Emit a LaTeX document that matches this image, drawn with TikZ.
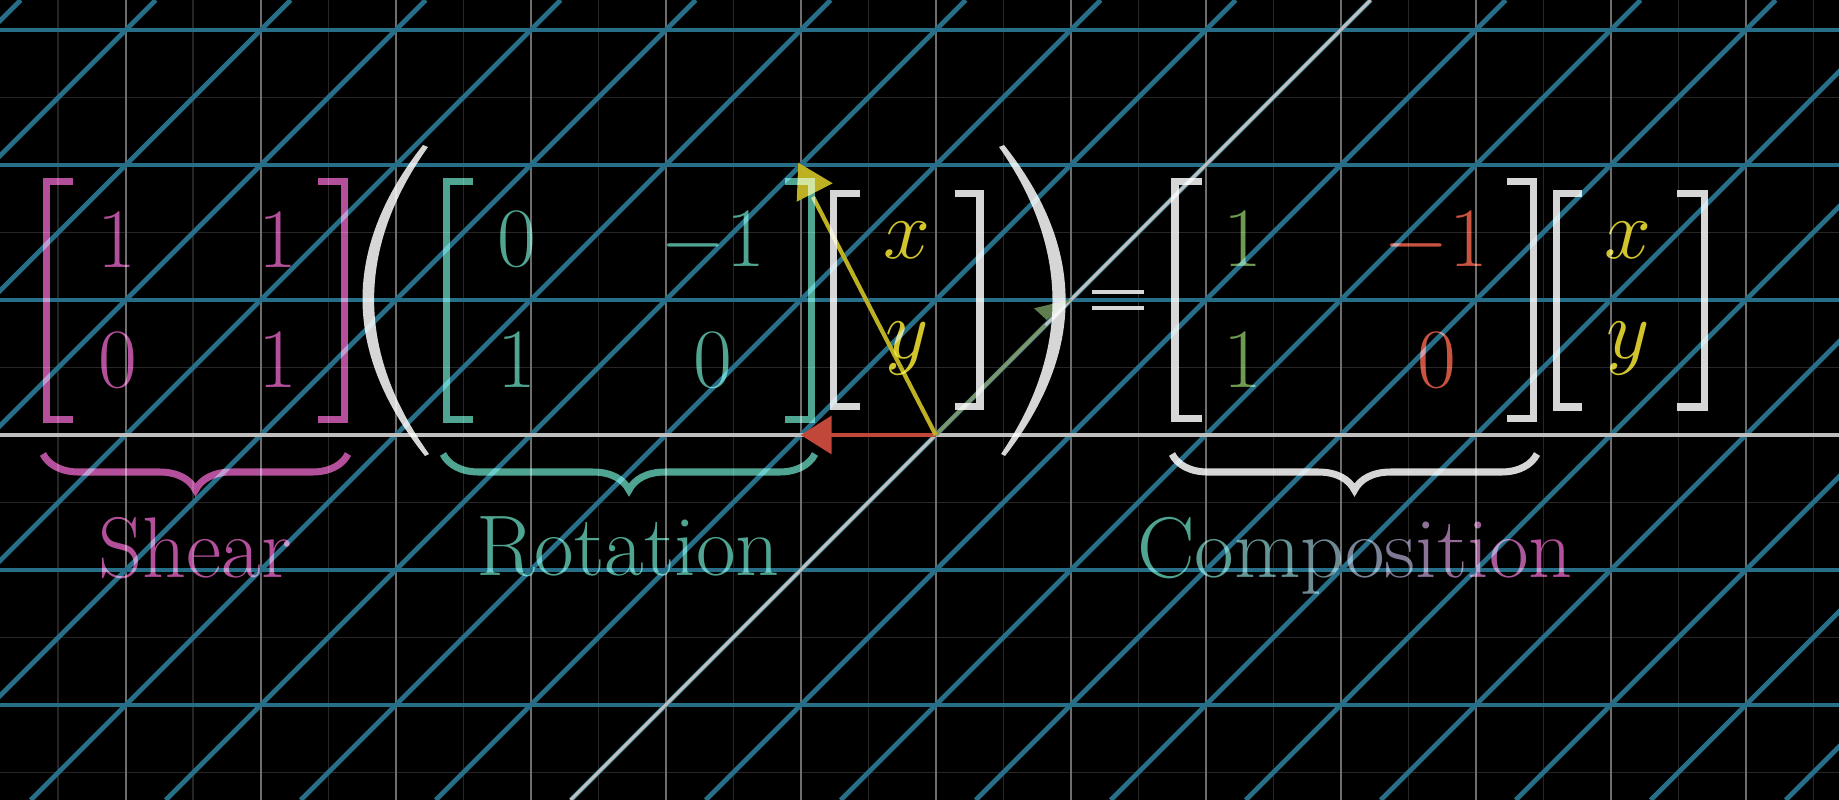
\RequirePackage{fix-cm}
\documentclass[tikz,border=0pt]{standalone}
\usetikzlibrary{arrows.meta, decorations.pathreplacing}
\definecolor{bgline}{HTML}{262626}
\definecolor{unitline}{HTML}{6E6E6E}
\definecolor{planeblue}{HTML}{276F88}
\definecolor{axisgray}{HTML}{BEBEBE}
\definecolor{shearcol}{HTML}{B4509B}
\definecolor{rotcol}{HTML}{50A592}
\definecolor{compcol}{HTML}{D6D6D6}
\definecolor{vecyellow}{HTML}{BDB023}
\definecolor{textyellow}{HTML}{D2C52C}
\definecolor{vecred}{HTML}{C0473A}
\definecolor{vecgreen}{HTML}{6B8B58}
\definecolor{entgreen}{HTML}{6E9B50}
\definecolor{entred}{HTML}{C9533F}

\begin{document}
\begin{tikzpicture}[x=0.01cm, y=-0.01cm,
  halfline/.style={bgline, line width=0.4pt},
  unitgrid/.style={unitline, line width=0.5pt},
  plane/.style={planeblue, line width=1.35pt},
  axis/.style={axisgray, line width=0.9pt},
  brack/.style={line width=2pt, line cap=butt},
  underbrace/.style={line width=2pt, decorate, decoration={brace, mirror, amplitude=0.36cm}},
  entry/.style={anchor=base, inner sep=0pt, font=\fontsize{24}{28}\selectfont},
  undertext/.style={anchor=base, inner sep=0pt, font=\fontsize{24.5}{29}\selectfont}
]
\useasboundingbox (0,0) rectangle (1839,800);
\clip (0,0) rectangle (1839,800);
\fill[black] (0,0) rectangle (1839,800);

% background plane
\foreach \k in {-7,...,7} \draw[halfline] ({935.7+135*\k+67.5},0) -- ++(0,800);
\foreach \k in {-4,...,3} \draw[halfline] (0,{435+135*\k+67.5}) -- ++(1839,0);
\foreach \k in {-7,...,7} \draw[unitgrid] ({935.7+135*\k},0) -- ++(0,800);

% sheared plane
\foreach \k in {-3,...,3} \draw[plane] (0,{435+135*\k}) -- ++(1839,0);
\foreach \c in {-10,...,9} \draw[plane] ({570.7+135*\c},800) -- ++(800,-800);
\draw[axis] (0,435) -- (1839,435);
\draw[axis] (570.7,800) -- (1370.7,0);

% vectors
\coordinate (O) at (935.7,435);
\coordinate (ybase) at (813,197);
\coordinate (rtip) at (800.7,435);
\coordinate (gbase) at (1045,325);
\draw[vecgreen, opacity=0.8, line width=1.1pt] (O) -- (gbase);
\fill[vecgreen, opacity=0.9] (1034,308.3) -- (1071.7,299.3) -- (1046.7,320) -- cycle;
\draw[vecred, line width=1.1pt, -{Triangle[length=0.31cm, width=0.38cm]}] (O) -- (rtip);
\draw[vecyellow, line width=1.2pt] (O) -- (ybase);
\fill[vecyellow] (798.3,162.7) -- (832.7,183.3) -- (796.7,201.7) -- cycle;

\begin{scope}[blend mode=screen]
% shear
\draw[brack, shearcol] (73,181.5) -- (46.5,181.5) -- (46.5,419.5) -- (73,419.5);
\draw[brack, shearcol] (318,181.5) -- (344.5,181.5) -- (344.5,419.5) -- (318,419.5);
\node[entry, shearcol] (s11) at (117,267) {$1$};
\node[entry, shearcol] (s12) at (278,267) {$1$};
\node[entry, shearcol] (s21) at (118,387) {$0$};
\node[entry, shearcol] (s22) at (278,387) {$1$};
\draw[underbrace, shearcol] (43,454) -- (348,454);
\node[undertext, shearcol] (shearlbl) at (195,577) {Shear};

% parentheses
\fill[compcol] (423,145) .. controls (342,248.3) and (342,351.7) .. (425,456)
  -- (429,454) .. controls (356,351.7) and (356,248.3) .. (428,147) -- cycle;
\fill[compcol] (1004,145) .. controls (1086,248.3) and (1086,351.7) .. (1005,456)
  -- (1001,454) .. controls (1070,351.7) and (1070,248.3) .. (999,147) -- cycle;

% rotation
\draw[brack, rotcol] (473,181.5) -- (446.5,181.5) -- (446.5,419.5) -- (473,419.5);
\draw[brack, rotcol] (785,181.5) -- (811.5,181.5) -- (811.5,419.5) -- (785,419.5);
\node[entry, rotcol] (r11) at (517,266) {$0$};
\node[entry, rotcol] (r12) at (713,266) {$-1$};
\node[entry, rotcol] (r21) at (517,387) {$1$};
\node[entry, rotcol] (r22) at (713,387) {$0$};
\draw[underbrace, rotcol] (443,454) -- (815,454);
\node[undertext, rotcol] (rotlbl) at (628,575) {Rotation};

% first vector
\draw[brack, compcol] (860,193.5) -- (833.5,193.5) -- (833.5,406.5) -- (860,406.5);
\draw[brack, compcol] (955,193.5) -- (980,193.5) -- (980,406.5) -- (955,406.5);
\node[entry, textyellow] (v1x) at (907,258) {$x$};
\node[entry, textyellow] (v1y) at (907,358) {$y$};

% equals
\draw[compcol, line width=0.9pt] (1092,292) -- (1144,292) (1092,308) -- (1144,308);

% composition
\draw[brack, compcol] (1202,181.5) -- (1175,181.5) -- (1175,418.5) -- (1202,418.5);
\draw[brack, compcol] (1507,181.5) -- (1533,181.5) -- (1533,418.5) -- (1507,418.5);
\node[entry, entgreen] (c11) at (1243,266) {$1$};
\node[entry, entred] (c12) at (1436,266) {$-1$};
\node[entry, entgreen] (c21) at (1243,387) {$1$};
\node[entry, entred] (c22) at (1437,387) {$0$};
\draw[underbrace, compcol] (1172,454) -- (1537,454);
\node[undertext] (complbl) at (1355,577) {\color{rotcol}C\color{rotcol!90!shearcol}o%
  \color{rotcol!80!shearcol}m\color{rotcol!70!shearcol}p\color{rotcol!60!shearcol}o%
  \color{rotcol!50!shearcol}s\color{rotcol!40!shearcol}i\color{rotcol!30!shearcol}t%
  \color{rotcol!20!shearcol}i\color{rotcol!10!shearcol}o\color{shearcol}n};

% second vector
\draw[brack, compcol] (1582,193.5) -- (1556,193.5) -- (1556,407) -- (1582,407);
\draw[brack, compcol] (1677,193.5) -- (1704,193.5) -- (1704,407) -- (1677,407);
\node[entry, textyellow] (v2x) at (1628,258) {$x$};
\node[entry, textyellow] (v2y) at (1628,358) {$y$};
\end{scope}
\end{tikzpicture}
\end{document}
